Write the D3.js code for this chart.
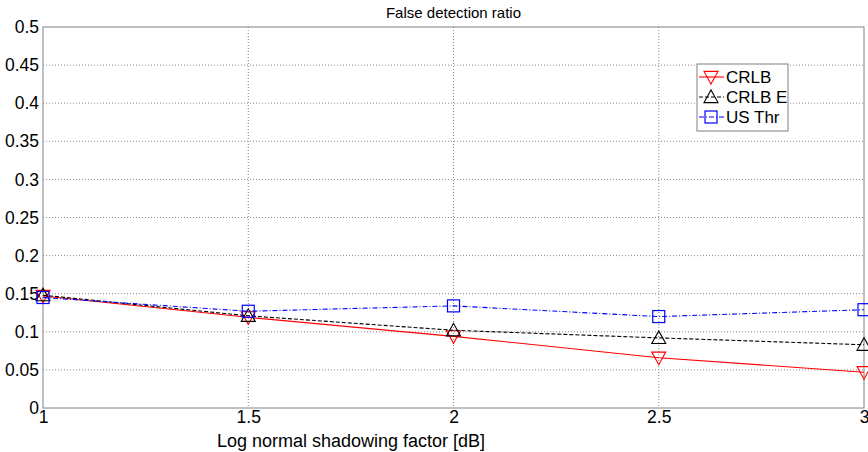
<!DOCTYPE html>
<html>
<head>
<meta charset="utf-8">
<script src="https://cdn.jsdelivr.net/npm/d3@7"></script>
<style>
  body { margin: 0; background: #fff; }
  text { font-family: "Liberation Sans", Arial, sans-serif; }
</style>
</head>
<body>
<div id="chart"></div>
<script>
const xValues = [1, 1.5, 2, 2.5, 3];
const crlb = [0.147, 0.119, 0.094, 0.066, 0.047];
const crlbE = [0.148, 0.121, 0.102, 0.092, 0.083];
const usThr = [0.145, 0.127, 0.134, 0.120, 0.129];
const xTicks = [1, 1.5, 2, 2.5, 3];
const yTicks = [0, 0.05, 0.1, 0.15, 0.2, 0.25, 0.3, 0.35, 0.4, 0.45, 0.5];

const margin = {top: 27, right: 4, bottom: 44, left: 43},
  width = 868 - margin.left - margin.right,
  height = 452 - margin.top - margin.bottom;

const svg = d3.select("#chart")
  .append("svg")
    .attr("width", 868)
    .attr("height", 452)
  .append("g")
    .attr("transform", `translate(${margin.left},${margin.top})`);

const x = d3.scaleLinear().domain([1, 3]).range([0, width]);
const y = d3.scaleLinear().domain([0, 0.5]).range([height, 0]);

// grid
svg.selectAll(".gx")
  .data(xTicks.slice(1, -1))
  .join("line")
    .attr("x1", d => x(d)).attr("x2", d => x(d))
    .attr("y1", 0).attr("y2", height)
    .style("stroke", "#888").style("stroke-dasharray", "1,2");
svg.selectAll(".gy")
  .data(yTicks.slice(1, -1))
  .join("line")
    .attr("x1", 0).attr("x2", width)
    .attr("y1", d => y(d)).attr("y2", d => y(d))
    .style("stroke", "#888").style("stroke-dasharray", "1,2");

// box
svg.append("rect")
  .attr("width", width).attr("height", height)
  .style("fill", "none").style("stroke", "#808080");

// axes
const xAxis = svg.append("g")
  .attr("transform", `translate(0,${height})`)
  .call(d3.axisBottom(x).tickValues(xTicks).tickSize(0).tickPadding(3).tickFormat(d3.format("")));
const yAxis = svg.append("g")
  .call(d3.axisLeft(y).tickValues(yTicks).tickSize(0).tickPadding(4).tickFormat(d3.format("")));
[xAxis, yAxis].forEach(a => {
  a.select(".domain").remove();
  a.selectAll("text").style("font-size", "17.5px").style("fill", "#000")
    .style("font-family", "'Liberation Sans', Arial, sans-serif");
});
yAxis.selectAll("text").attr("dy", "0.32em");

// series
const series = [
  {name: "CRLB", values: crlb, color: "#ff0000", dash: null, marker: "down"},
  {name: "CRLB E", values: crlbE, color: "#000000", dash: "4,2", marker: "up"},
  {name: "US Thr", values: usThr, color: "#0000ff", dash: "5,2,1,2", marker: "square"}
];

const line = d3.line().x((d, i) => x(xValues[i])).y(d => y(d));

function drawMarker(g, type, cx, cy, color) {
  if (type === "square") {
    g.append("rect")
      .attr("x", cx - 6).attr("y", cy - 6).attr("width", 12).attr("height", 12)
      .style("fill", "none").style("stroke", color).style("stroke-width", 1.2);
  } else {
    const s = 7;
    const pts = type === "down"
      ? [[cx - s, cy - s * 0.8], [cx + s, cy - s * 0.8], [cx, cy + s]]
      : [[cx - s, cy + s * 0.8], [cx + s, cy + s * 0.8], [cx, cy - s]];
    g.append("polygon")
      .attr("points", pts.map(p => p.join(",")).join(" "))
      .style("fill", "none").style("stroke", color).style("stroke-width", 1.1);
  }
}

series.forEach(s => {
  svg.append("path")
    .datum(s.values)
    .attr("d", line)
    .style("fill", "none")
    .style("stroke", s.color)
    .style("stroke-width", 1.1)
    .style("stroke-dasharray", s.dash);
  const mg = svg.append("g");
  s.values.forEach((v, i) => drawMarker(mg, s.marker, x(xValues[i]), y(v), s.color));
});

// legend
const lg = svg.append("g").attr("transform", `translate(${697 - margin.left},${64 - margin.top})`);
lg.append("rect").attr("width", 91).attr("height", 67)
  .style("fill", "#fff").style("stroke", "#808080");
series.forEach((s, i) => {
  const cy = 13 + i * 20;
  lg.append("line").attr("x1", 2).attr("x2", 27).attr("y1", cy).attr("y2", cy)
    .style("stroke", s.color).style("stroke-width", 1.1).style("stroke-dasharray", s.dash);
  drawMarker(lg, s.marker, 14, cy, s.color);
  lg.append("text").attr("x", 29).attr("y", cy).attr("dy", "0.35em")
    .style("font-size", "17px").text(s.name);
});

// titles
svg.append("text")
  .attr("x", width / 2).attr("y", -9)
  .attr("text-anchor", "middle")
  .style("font-size", "15px")
  .text("False detection ratio");
svg.append("text")
  .attr("x", 351 - margin.left).attr("y", height + 39)
  .attr("text-anchor", "middle")
  .style("font-size", "18px")
  .text("Log normal shadowing factor [dB]");
</script>
</body>
</html>
